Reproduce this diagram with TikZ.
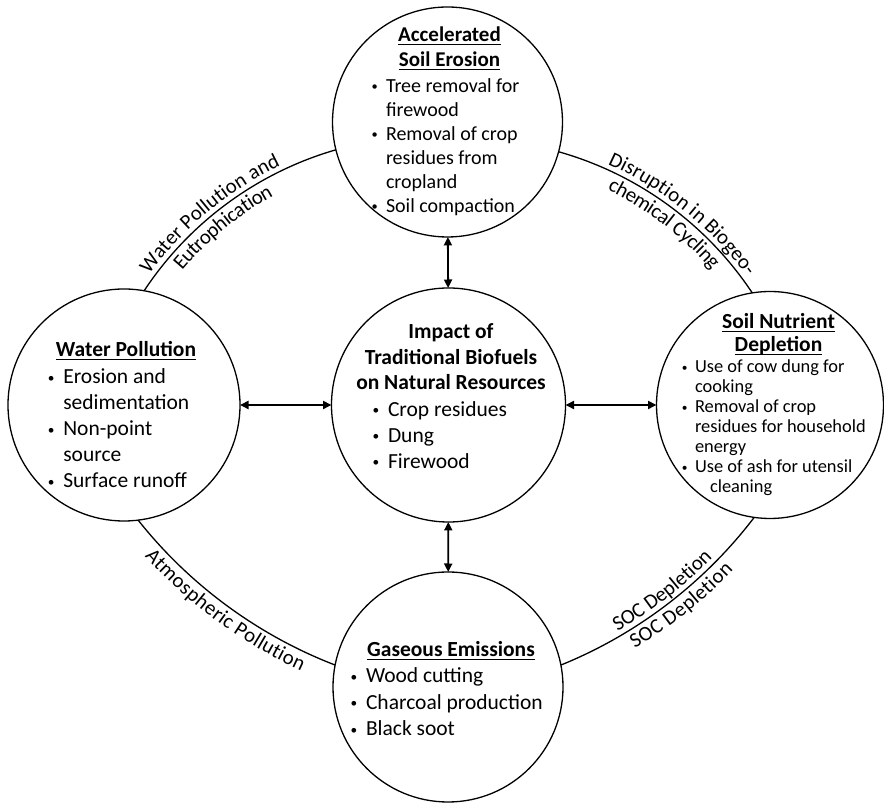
\documentclass[tikz,border=0pt]{standalone}
\usepackage{fontspec}
\setmainfont{Carlito}
\usetikzlibrary{arrows.meta,decorations.text}
\newcommand{\uln}[1]{\leavevmode\setbox0\hbox{#1}\rlap{\rule[-3.3pt]{\wd0}{1.3pt}}\box0}
\newcommand{\bu}{\llap{\makebox[0.72em][l]{\raisebox{0.09em}{\scalebox{0.62}{\textbullet}}}}}
\newcommand{\ringfont}{\fontsize{20.8}{24}\selectfont}
\begin{document}
\begin{tikzpicture}[x=1pt,y=1pt,
  circ/.style={circle, draw, fill=white, line width=1.3pt, inner sep=0pt, outer sep=0pt},
  ring/.style={line width=1.3pt},
  link/.style={line width=1.9pt, {Triangle[length=8.5pt,width=8pt]}-{Triangle[length=8.5pt,width=8pt]}},
  ttl/.style={anchor=base, inner sep=0pt, outer sep=0pt},
  lst/.style={anchor=base west, inner sep=0pt, outer sep=0pt},
]
\useasboundingbox[fill=white] (0,0) rectangle (884,803);

% circles
\node[circ, minimum size=230pt] (top) at (447.5,681) {};
\node[circ, minimum size=232pt] (left) at (124,398) {};
\node[circ, minimum size=234pt] (ctr) at (448.5,398) {};
\node[circ, minimum size=227pt] (right) at (770,398) {};
\node[circ, minimum size=230pt] (bottom) at (448,116) {};

% ring arcs
\draw[ring] (left.80.1) to[bend left=20.25, looseness=0.8785] (top.194.6);
\draw[ring] (top.345.2) to[bend left=20.35, looseness=0.878] (right.99.7);
\draw[ring] (left.277.5) to[bend right=15.25, looseness=0.8665] (bottom.169.3);
\draw[ring] (bottom.11.2) to[bend right=15.3, looseness=0.8665] (right.262.9);

% ring labels
\path[decorate, decoration={text along path, text={|\ringfont|Water Pollution and}, text align={left indent=16pt}, raise=5pt}]
  (left.80.1) to[bend left=20.25, looseness=0.8785] (top.194.6);
\path[decorate, decoration={text along path, text={|\ringfont|Eutrophication}, text align={left indent=40pt}, raise=-18.5pt}]
  (left.80.1) to[bend left=20.25, looseness=0.8785] (top.194.6);
\path[decorate, decoration={text along path, text={|\ringfont|Disruption in Biogeo-}, text align={left indent=50pt}, raise=5pt}]
  (top.345.2) to[bend left=20.35, looseness=0.878] (right.99.7);
\path[decorate, decoration={text along path, text={|\ringfont|chemical Cycling}, text align={left indent=61pt}, raise=-18.5pt}]
  (top.345.2) to[bend left=20.35, looseness=0.878] (right.99.7);
\path[decorate, decoration={text along path, text={|\ringfont|Atmospheric Pollution}, text align={left indent=31pt}, raise=-18.5pt}]
  (left.277.5) to[bend right=15.25, looseness=0.8665] (bottom.169.3);
\path[decorate, decoration={text along path, text={|\ringfont|SOC Depletion}, text align={left indent=66pt}, raise=5pt}]
  (bottom.11.2) to[bend right=15.3, looseness=0.8665] (right.262.9);
\path[decorate, decoration={text along path, text={|\ringfont|SOC Depletion}, text align={left indent=72pt}, raise=-18.5pt}]
  (bottom.11.2) to[bend right=15.3, looseness=0.8665] (right.262.9);

% arrows
\draw[link] (ctr) -- (top);
\draw[link] (ctr) -- (bottom);
\draw[link] (ctr) -- (left);
\draw[link] (ctr) -- (right);

% texts: top
\node[ttl, font=\fontsize{21}{25}\selectfont\bfseries] (topT) at (449.5,761.3)
  {\begin{tabular}[t]{@{}c@{}}\uln{Accelerated}\\\uln{Soil Erosion}\end{tabular}};
\node[lst, font=\fontsize{20}{24}\selectfont] (topL) at (386,710.3)
  {\begin{tabular}[t]{@{}l@{}}\bu Tree removal for\\firewood\\\bu Removal of crop\\residues from\\cropland\\\bu Soil compaction\end{tabular}};

% left
\node[ttl, font=\fontsize{21.5}{26}\selectfont\bfseries] (leftT) at (126,446)
  {\uln{Water Pollution}};
\node[lst, font=\fontsize{21.5}{26}\selectfont] (leftL) at (63.3,419)
  {\begin{tabular}[t]{@{}l@{}}\bu Erosion and\\sedimentation\\\bu Non-point\\source\\\bu Surface runoff\end{tabular}};

% center
\node[ttl, font=\fontsize{21.5}{25.5}\selectfont\bfseries] (ctrT) at (451,464)
  {\begin{tabular}[t]{@{}c@{}}Impact of\\Traditional Biofuels\\on Natural Resources\end{tabular}};
\node[lst, font=\fontsize{21.5}{26}\selectfont] (ctrL) at (388,386.3)
  {\begin{tabular}[t]{@{}l@{}}\bu Crop residues\\\bu Dung\\\bu Firewood\end{tabular}};

% right
\node[ttl, font=\fontsize{21.5}{22.7}\selectfont\bfseries] (rightT) at (778.5,474)
  {\begin{tabular}[t]{@{}c@{}}\uln{Soil Nutrient}\\\uln{Depletion}\end{tabular}};
\node[lst, font=\fontsize{18.4}{20}\selectfont] (rightL) at (695,430)
  {\begin{tabular}[t]{@{}l@{}}\bu Use of cow dung for\\cooking\\\bu Removal of crop\\residues for household\\energy\\\bu Use of ash for utensil\\\hspace*{15pt}cleaning\end{tabular}};

% bottom
\node[ttl, font=\fontsize{21.5}{26}\selectfont\bfseries] (bottomT) at (451,146.3)
  {\uln{Gaseous Emissions}};
\node[lst, font=\fontsize{21.5}{26.5}\selectfont] (bottomL) at (366,120)
  {\begin{tabular}[t]{@{}l@{}}\bu Wood cutting\\\bu Charcoal production\\\bu Black soot\end{tabular}};
\end{tikzpicture}
\end{document}
